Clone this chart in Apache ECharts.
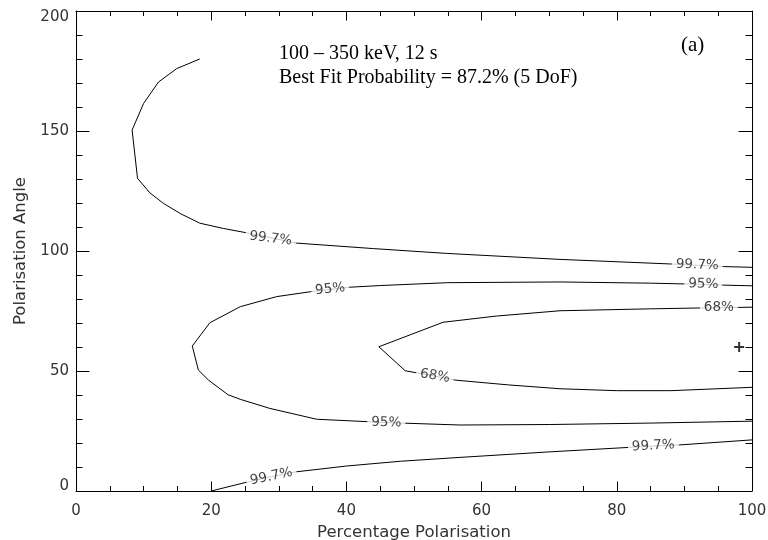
<!DOCTYPE html>
<html>
<head>
<meta charset="utf-8">
<script src="https://cdn.jsdelivr.net/npm/echarts@6/dist/echarts.min.js"></script>
<style>
  html, body { margin: 0; padding: 0; background: #fff; }
  #chart { width: 768px; height: 540px; }
</style>
</head>
<body>
<div id="chart"></div>
<script>
// contour lines, [percentage polarisation, polarisation angle]
const contour997Upper = [[18.3, 180], [14.9, 176], [12.2, 170.4], [10, 161.5], [8.3, 150.4], [9.1, 130.3], [10.9, 124.3], [12.9, 119.9], [15.5, 115.5], [18.3, 111.6], [21.8, 109.4], [25.2, 107.6], [29, 105.4], [32.6, 103.3], [44, 101], [54.8, 99], [71.6, 96.5], [87.9, 94.6], [95.9, 93.5], [100, 93.2]];
const contour95 = [[100, 85.5], [95.5, 85.8], [92.8, 86.1], [85, 86.6], [71.6, 87.1], [55, 86.8], [45, 85.6], [40.4, 84.9], [37.6, 84], [34.6, 83], [29.7, 81], [24.3, 76.8], [19.8, 70.1], [17.2, 60.4], [18.1, 50.4], [19.6, 46.2], [22.5, 40.1], [24.3, 38.2], [28.7, 34.4], [35.6, 29.9], [46, 28.5], [56.8, 27.5], [70, 27.7], [85, 28.3], [100, 29.1]];
const contour68 = [[100, 76.6], [98.2, 76.5], [95.2, 76.4], [85, 75.9], [71.6, 75.1], [62.2, 72.9], [54.3, 70.3], [44.8, 60.1], [48.7, 50.1], [53.1, 47.9], [56.1, 46.2], [64, 44.2], [71.6, 42.6], [80, 41.8], [88, 41.8], [100, 43.2]];
const contour997Lower = [[20, 0], [25, 3.5], [28.9, 6], [32.6, 8], [40, 10.4], [48, 12.4], [56.8, 14], [70, 16.3], [82, 18.2], [85.4, 18.75], [89.3, 19.2], [100, 21.3]];
const bestFit = [[98.1, 60]];

// contour level labels: [x, y, text]
const contourLabels = [
  [28.8, 105.2, '99.7%'],
  [91.9, 94.2, '99.7%'],
  [37.6, 84.1, '95%'],
  [92.8, 86.2, '95%'],
  [95.1, 76.4, '68%'],
  [53.1, 47.9, '68%'],
  [45.9, 28.5, '95%'],
  [28.9, 6.0, '99.7%'],
  [85.4, 18.8, '99.7%']
];
const labelAngles = [-7, -2, 6, -1, 0, -10, -1, 12, 3];

const xTicks = { min: 0, max: 100, interval: 20 };
const yTicks = { min: 0, max: 200, interval: 50 };

const chart = echarts.init(document.getElementById('chart'), null, { renderer: 'canvas' });

const sansFont = 'DejaVu Sans';
const black = '#000';

function axisBase(pos, ticks, isX, main) {
  return {
    type: 'value',
    position: pos,
    min: ticks.min,
    max: ticks.max,
    interval: ticks.interval,
    axisLine: { show: true, onZero: false, lineStyle: { color: black, width: 1 } },
    axisTick: { show: true, inside: true, length: isX ? 9.5 : 13.5, lineStyle: { color: black } },
    minorTick: { show: true, splitNumber: isX ? 4 : 5, length: isX ? 5 : 6.5, lineStyle: { color: black } },
    splitLine: { show: false },
    minorSplitLine: { show: false },
    axisLabel: {
      show: main,
      color: '#333',
      fontFamily: sansFont,
      fontSize: 15,
      margin: isX ? 13 : 7
    }
  };
}

const nameStyle = { color: '#333', fontFamily: sansFont, fontSize: 16.5 };

const xBottom = Object.assign(axisBase('bottom', xTicks, true, true), {
  name: 'Percentage Polarisation',
  nameLocation: 'middle',
  nameGap: 30,
  nameTextStyle: nameStyle
});
const xTop = axisBase('top', xTicks, true, false);
const yLeft = Object.assign(axisBase('left', yTicks, false, true), {
  name: 'Polarisation Angle',
  nameLocation: 'middle',
  nameGap: 47,
  nameTextStyle: nameStyle
});
// IDL-style: lowest label nudged up, highest nudged down
yLeft.axisLabel.formatter = function (v) {
  if (v === yTicks.max) return '{hi|' + v + '}';
  if (v === yTicks.min) return '{lo|' + v + '}';
  return String(v);
};
yLeft.axisLabel.rich = {
  hi: { color: '#333', fontFamily: sansFont, fontSize: 15, padding: [12, 0, 0, 0] },
  lo: { color: '#333', fontFamily: sansFont, fontSize: 15, padding: [0, 0, 10, 0] }
};
const yRight = axisBase('right', yTicks, false, false);

function contourLine(name, data) {
  return {
    name: name,
    type: 'line',
    data: data,
    symbol: 'none',
    smooth: false,
    lineStyle: { color: black, width: 1 },
    z: 2
  };
}

const option = {
  animation: false,
  backgroundColor: '#fff',
  grid: { left: 76, right: 16, top: 11, bottom: 49, containLabel: false, outerBoundsMode: 'none' },
  xAxis: [xBottom, xTop],
  yAxis: [yLeft, yRight],
  series: [
    contourLine('99.7% upper', contour997Upper),
    contourLine('95%', contour95),
    contourLine('68%', contour68),
    contourLine('99.7% lower', contour997Lower),
    {
      name: 'levels',
      type: 'scatter',
      symbolSize: 1,
      itemStyle: { color: 'rgba(0,0,0,0)' },
      z: 5,
      data: contourLabels.map((d, i) => ({
        value: [d[0], d[1]],
        label: {
          show: true,
          position: 'inside',
          formatter: d[2],
          rotate: labelAngles[i],
          color: '#111',
          fontFamily: sansFont,
          fontSize: 13.5,
          backgroundColor: '#fff',
          padding: [1, 4]
        }
      }))
    },
    {
      name: 'best fit',
      type: 'scatter',
      data: bestFit,
      symbol: 'path://M4,0h2v10h-2zM0,4h10v2h-10z',
      symbolSize: 10,
      itemStyle: { color: black },
      z: 6
    }
  ],
  graphic: [
    {
      type: 'text', left: 279, top: 44,
      style: { text: '100 – 350 keV, 12 s', font: '20px "Liberation Serif"', fill: black }
    },
    {
      type: 'text', left: 279, top: 68,
      style: { text: 'Best Fit Probability = 87.2% (5 DoF)', font: '20px "Liberation Serif"', fill: black }
    },
    {
      type: 'text', left: 681, top: 35,
      style: { text: '(a)', font: '21px "Liberation Serif"', fill: black }
    }
  ]
};

chart.setOption(option);
</script>
</body>
</html>
